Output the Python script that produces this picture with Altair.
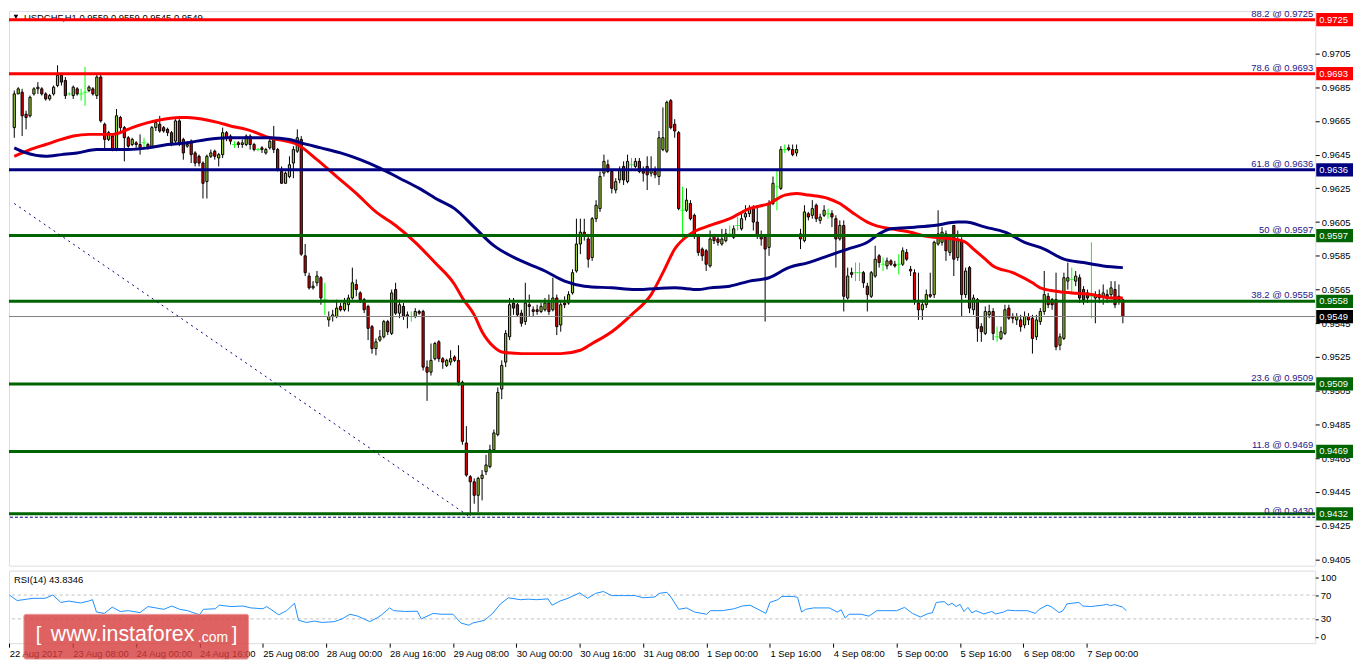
import altair as alt
import pandas as pd

# ---------------- data (USDCHF H1, bar 0 = 22 Aug 2017 16:00) ----------------
opens = [
 0.9661,0.9681,0.9682,0.9669,0.9668,0.9681,0.9684,0.9684,0.9681,0.9678,
 0.9681,0.9686,0.9692,0.9689,0.9681,0.9680,0.9684,0.9681,0.9682,0.9683,
 0.9684,0.9680,0.9691,0.9663,0.9654,0.9656,0.9648,0.9667,0.9661,0.9655,
 0.9651,0.9652,0.9651,0.9652,0.9651,0.9650,0.9661,0.9663,0.9661,0.9660,
 0.9658,0.9653,0.9665,0.9654,0.9650,0.9653,0.9646,0.9644,0.9640,0.9629,
 0.9644,0.9647,0.9643,0.9645,0.9658,0.9656,0.9651,0.9652,0.9651,0.9651,
 0.9656,0.9651,0.9648,0.9649,0.9646,0.9649,0.9654,0.9648,0.9635,0.9628,
 0.9632,0.9640,0.9647,0.9654,0.9585,0.9573,0.9566,0.9569,0.9572,0.9559,
 0.9547,0.9549,0.9549,0.9555,0.9553,0.9556,0.9560,0.9568,0.9563,0.9559,
 0.9555,0.9543,0.9530,0.9535,0.9537,0.9546,0.9539,0.9565,0.9551,0.9555,
 0.9550,0.9549,0.9549,0.9552,0.9552,0.9519,0.9516,0.9524,0.9534,0.9524,
 0.9520,0.9522,0.9525,0.9523,0.9510,0.9474,0.9454,0.9451,0.9443,0.9453,
 0.9457,0.9460,0.9470,0.9479,0.9506,0.9522,0.9537,0.9557,0.9556,0.9551,
 0.9546,0.9556,0.9553,0.9553,0.9552,0.9553,0.9557,0.9553,0.9560,0.9544,
 0.9557,0.9557,0.9563,0.9576,0.9592,0.9599,0.9595,0.9584,0.9607,0.9613,
 0.9634,0.9639,0.9635,0.9624,0.9630,0.9638,0.9629,0.9639,0.9638,0.9641,
 0.9636,0.9638,0.9634,0.9635,0.9632,0.9648,0.9647,0.9677,0.9663,0.9658,
 0.9612,0.9612,0.9616,0.9609,0.9597,0.9589,0.9588,0.9579,0.9597,0.9595,
 0.9592,0.9594,0.9598,0.9596,0.9603,0.9601,0.9608,0.9610,0.9613,0.9605,
 0.9597,0.9596,0.9590,0.9616,0.9626,0.9625,0.9648,0.9649,0.9648,0.9646,
 0.9598,0.9594,0.9610,0.9609,0.9615,0.9606,0.9609,0.9610,0.9610,0.9607,
 0.9595,0.9603,0.9560,0.9575,0.9575,0.9575,0.9575,0.9567,0.9561,0.9573,
 0.9585,0.9580,0.9579,0.9582,0.9580,0.9580,0.9580,0.9587,0.9577,0.9575,
 0.9557,0.9553,0.9556,0.9562,0.9562,0.9592,0.9593,0.9598,0.9587,0.9603,
 0.9584,0.9594,0.9562,0.9578,0.9553,0.9559,0.9543,0.9539,0.9550,0.9552,
 0.9537,0.9536,0.9539,0.9554,0.9549,0.9547,0.9547,0.9544,0.9549,0.9548,
 0.9537,0.9546,0.9552,0.9561,0.9559,0.9559,0.9532,0.9536,0.9570,0.9571,
 0.9570,0.9572,0.9565,0.9563,0.9561,0.9560,0.9562,0.9561,0.9562,0.9562,
 0.9565,0.9561,0.9559]
closes = [
 0.9681,0.9684,0.9668,0.9667,0.9679,0.9684,0.9685,0.9681,0.9678,0.9680,
 0.9685,0.9692,0.9688,0.9680,0.9681,0.9685,0.9681,0.9681,0.9682,0.9685,
 0.9681,0.9691,0.9665,0.9654,0.9658,0.9648,0.9668,0.9661,0.9655,0.9650,
 0.9654,0.9651,0.9649,0.9652,0.9649,0.9661,0.9664,0.9659,0.9659,0.9658,
 0.9652,0.9665,0.9652,0.9646,0.9651,0.9645,0.9640,0.9640,0.9628,0.9644,
 0.9646,0.9644,0.9645,0.9658,0.9655,0.9653,0.9651,0.9651,0.9652,0.9656,
 0.9651,0.9648,0.9648,0.9648,0.9648,0.9653,0.9648,0.9636,0.9628,0.9634,
 0.9639,0.9648,0.9655,0.9586,0.9575,0.9566,0.9567,0.9573,0.9560,0.9559,
 0.9549,0.9550,0.9554,0.9553,0.9557,0.9560,0.9569,0.9565,0.9559,0.9553,
 0.9542,0.9530,0.9534,0.9537,0.9546,0.9540,0.9563,0.9551,0.9556,0.9549,
 0.9549,0.9549,0.9552,0.9551,0.9519,0.9516,0.9523,0.9533,0.9524,0.9522,
 0.9523,0.9524,0.9523,0.9510,0.9475,0.9455,0.9451,0.9443,0.9453,0.9455,
 0.9461,0.9470,0.9480,0.9504,0.9520,0.9539,0.9556,0.9554,0.9550,0.9545,
 0.9557,0.9555,0.9552,0.9552,0.9555,0.9557,0.9552,0.9560,0.9543,0.9556,
 0.9556,0.9562,0.9575,0.9592,0.9599,0.9597,0.9583,0.9607,0.9615,0.9632,
 0.9641,0.9635,0.9625,0.9629,0.9636,0.9630,0.9641,0.9639,0.9641,0.9635,
 0.9634,0.9633,0.9636,0.9633,0.9655,0.9655,0.9676,0.9661,0.9659,0.9613,
 0.9612,0.9618,0.9607,0.9597,0.9587,0.9585,0.9580,0.9595,0.9594,0.9593,
 0.9595,0.9598,0.9598,0.9601,0.9603,0.9607,0.9610,0.9613,0.9605,0.9597,
 0.9595,0.9589,0.9616,0.9628,0.9626,0.9648,0.9648,0.9648,0.9645,0.9648,
 0.9595,0.9611,0.9608,0.9613,0.9607,0.9608,0.9612,0.9610,0.9608,0.9595,
 0.9603,0.9561,0.9573,0.9574,0.9575,0.9575,0.9569,0.9562,0.9575,0.9583,
 0.9581,0.9580,0.9582,0.9580,0.9579,0.9580,0.9588,0.9583,0.9576,0.9559,
 0.9553,0.9556,0.9562,0.9561,0.9593,0.9598,0.9599,0.9588,0.9595,0.9583,
 0.9594,0.9562,0.9576,0.9554,0.9560,0.9542,0.9540,0.9552,0.9552,0.9539,
 0.9537,0.9540,0.9553,0.9548,0.9548,0.9549,0.9543,0.9549,0.9547,0.9536,
 0.9547,0.9552,0.9562,0.9556,0.9556,0.9531,0.9537,0.9572,0.9572,0.9571,
 0.9573,0.9560,0.9559,0.9560,0.9561,0.9562,0.9560,0.9563,0.9560,0.9566,
 0.9556,0.9559,0.9549]
highs = [
 0.9683,0.9685,0.9684,0.9671,0.9680,0.9685,0.9688,0.9685,0.9682,0.9681,
 0.9686,0.9698,0.9693,0.9691,0.9682,0.9686,0.9685,0.9684,0.9697,0.9686,
 0.9685,0.9693,0.9693,0.9664,0.9659,0.9657,0.9672,0.9668,0.9662,0.9656,
 0.9655,0.9653,0.9657,0.9655,0.9652,0.9662,0.9665,0.9668,0.9662,0.9661,
 0.9659,0.9666,0.9666,0.9655,0.9653,0.9654,0.9647,0.9645,0.9641,0.9645,
 0.9648,0.9648,0.9646,0.9661,0.9659,0.9657,0.9653,0.9653,0.9654,0.9657,
 0.9657,0.9652,0.9649,0.9650,0.9649,0.9655,0.9662,0.9649,0.9638,0.9635,
 0.9644,0.9650,0.9660,0.9656,0.9592,0.9575,0.9570,0.9576,0.9573,0.9569,
 0.9552,0.9553,0.9559,0.9557,0.9560,0.9562,0.9578,0.9571,0.9564,0.9560,
 0.9556,0.9544,0.9536,0.9541,0.9547,0.9547,0.9565,0.9569,0.9559,0.9557,
 0.9552,0.9552,0.9554,0.9553,0.9553,0.9523,0.9533,0.9534,0.9535,0.9525,
 0.9524,0.9529,0.9526,0.9532,0.9511,0.9484,0.9455,0.9453,0.9454,0.9458,
 0.9467,0.9473,0.9482,0.9507,0.9523,0.9541,0.9560,0.9560,0.9557,0.9553,
 0.9569,0.9562,0.9555,0.9556,0.9557,0.9560,0.9562,0.9572,0.9562,0.9558,
 0.9561,0.9564,0.9577,0.9607,0.9607,0.9607,0.9598,0.9608,0.9618,0.9635,
 0.9645,0.9642,0.9636,0.9631,0.9638,0.9641,0.9645,0.9643,0.9643,0.9643,
 0.9638,0.9644,0.9644,0.9638,0.9659,0.9673,0.9677,0.9678,0.9666,0.9659,
 0.9626,0.9625,0.9618,0.9610,0.9598,0.9590,0.9589,0.9600,0.9598,0.9597,
 0.9601,0.9601,0.9603,0.9603,0.9608,0.9610,0.9615,0.9615,0.9615,0.9615,
 0.9600,0.9598,0.9618,0.9632,0.9636,0.9650,0.9651,0.9651,0.9651,0.9651,
 0.9601,0.9615,0.9611,0.9618,0.9616,0.9610,0.9615,0.9613,0.9612,0.9609,
 0.9606,0.9606,0.9578,0.9578,0.9581,0.9581,0.9576,0.9569,0.9576,0.9591,
 0.9586,0.9584,0.9584,0.9583,0.9582,0.9586,0.9590,0.9589,0.9579,0.9577,
 0.9575,0.9559,0.9565,0.9575,0.9594,0.9612,0.9602,0.9600,0.9597,0.9603,
 0.9600,0.9596,0.9578,0.9579,0.9562,0.9560,0.9545,0.9555,0.9556,0.9554,
 0.9543,0.9543,0.9556,0.9556,0.9551,0.9551,0.9550,0.9552,0.9551,0.9550,
 0.9550,0.9554,0.9576,0.9563,0.9560,0.9575,0.9539,0.9575,0.9581,0.9578,
 0.9576,0.9574,0.9567,0.9565,0.9593,0.9564,0.9565,0.9568,0.9565,0.9570,
 0.9570,0.9568,0.9559]
lows = [
 0.9655,0.9681,0.9656,0.9660,0.9667,0.9680,0.9681,0.9680,0.9677,0.9677,
 0.9680,0.9685,0.9686,0.9678,0.9680,0.9678,0.9680,0.9677,0.9674,0.9682,
 0.9680,0.9678,0.9664,0.9648,0.9653,0.9647,0.9647,0.9659,0.9641,0.9649,
 0.9650,0.9649,0.9645,0.9649,0.9648,0.9649,0.9659,0.9658,0.9658,0.9656,
 0.9650,0.9652,0.9650,0.9642,0.9649,0.9640,0.9638,0.9638,0.9619,0.9619,
 0.9643,0.9642,0.9638,0.9643,0.9653,0.9651,0.9649,0.9649,0.9649,0.9650,
 0.9648,0.9647,0.9647,0.9646,0.9645,0.9648,0.9646,0.9635,0.9628,0.9628,
 0.9631,0.9631,0.9646,0.9585,0.9573,0.9565,0.9565,0.9567,0.9556,0.9550,
 0.9543,0.9546,0.9548,0.9552,0.9552,0.9552,0.9559,0.9561,0.9557,0.9551,
 0.9535,0.9527,0.9526,0.9534,0.9536,0.9538,0.9538,0.9550,0.9548,0.9547,
 0.9542,0.9546,0.9548,0.9550,0.9517,0.9499,0.9514,0.9523,0.9522,0.9518,
 0.9519,0.9520,0.9522,0.9508,0.9473,0.9454,0.9431,0.9438,0.9433,0.9440,
 0.9455,0.9459,0.9469,0.9478,0.9500,0.9519,0.9535,0.9550,0.9549,0.9543,
 0.9544,0.9549,0.9549,0.9550,0.9551,0.9552,0.9550,0.9552,0.9538,0.9540,
 0.9554,0.9556,0.9562,0.9575,0.9586,0.9594,0.9578,0.9582,0.9605,0.9611,
 0.9632,0.9634,0.9622,0.9622,0.9628,0.9627,0.9628,0.9637,0.9637,0.9634,
 0.9629,0.9624,0.9632,0.9631,0.9627,0.9647,0.9646,0.9660,0.9655,0.9612,
 0.9595,0.9611,0.9606,0.9595,0.9585,0.9582,0.9576,0.9578,0.9592,0.9591,
 0.9591,0.9593,0.9596,0.9595,0.9600,0.9600,0.9606,0.9608,0.9600,0.9595,
 0.9591,0.9546,0.9585,0.9615,0.9612,0.9624,0.9646,0.9647,0.9644,0.9644,
 0.9589,0.9593,0.9606,0.9607,0.9605,0.9604,0.9608,0.9607,0.9602,0.9578,
 0.9594,0.9552,0.9559,0.9572,0.9570,0.9570,0.9566,0.9552,0.9560,0.9572,
 0.9578,0.9576,0.9577,0.9579,0.9578,0.9574,0.9579,0.9582,0.9573,0.9556,
 0.9547,0.9547,0.9554,0.9560,0.9560,0.9591,0.9591,0.9582,0.9585,0.9573,
 0.9582,0.9549,0.9560,0.9551,0.9550,0.9534,0.9534,0.9538,0.9548,0.9535,
 0.9534,0.9535,0.9538,0.9547,0.9545,0.9544,0.9540,0.9542,0.9544,0.9527,
 0.9535,0.9544,0.9550,0.9554,0.9553,0.9529,0.9529,0.9535,0.9565,0.9563,
 0.9567,0.9557,0.9556,0.9557,0.9548,0.9545,0.9557,0.9556,0.9557,0.9560,
 0.9554,0.9556,0.9545]

# moving averages (read at sample bars)
red_ma_bar = [0,4,8,12,15,19,25,28,30,34,38,42,44,48,52,55,59,65,72,77,
              82,87,92,97,102,107,112,114,117,119,122,124,129,134,139,144,147,152,157,162,
              165,168,172,177,182,187,192,196,199,202,207,210,213,217,219,223,228,231,234,239,
              242,244,247,249,254,259,261,265,269,274,279,282]
red_ma_val = [0.9644,0.9648,0.9651,0.9654,0.9656,0.9657,0.9657,0.9659,0.9661,0.9664,
              0.9666,0.9667,0.9667,0.9666,0.9664,0.9662,0.9660,0.9655,0.9651,0.9642,
              0.9632,0.9622,0.9611,0.9603,0.9593,0.9581,0.9568,0.9560,0.9550,0.9540,
              0.9531,0.9528,0.9527,0.9527,0.9527,0.9529,0.9533,0.9540,0.9550,0.9562,
              0.9575,0.9589,0.9598,0.9603,0.9607,0.9613,0.9616,0.9621,0.9622,0.9621,
              0.9619,0.9616,0.9611,0.9605,0.9603,0.9601,0.9599,0.9597,0.9596,0.9595,
              0.9593,0.9589,0.9583,0.9579,0.9575,0.9569,0.9566,0.9564,0.9563,0.9562,
              0.9560,0.9560]
blue_ma_bar = [0,3,8,12,16,21,24,29,34,39,44,49,54,59,65,70,73,78,83,88,
               93,98,103,108,112,117,122,128,135,140,145,152,158,168,174,177,182,187,192,197,
               202,207,212,217,220,223,229,234,240,242,247,252,257,262,267,272,277,282]
blue_ma_val = [0.9649,0.9646,0.9644,0.9645,0.9646,0.9648,0.9648,0.9648,0.9649,0.9651,
               0.9652,0.9654,0.9655,0.9655,0.9655,0.9654,0.9652,0.9649,0.9646,0.9642,
               0.9637,0.9631,0.9625,0.9618,0.9613,0.9602,0.9591,0.9583,0.9576,0.9570,
               0.9567,0.9566,0.9565,0.9566,0.9565,0.9566,0.9567,0.9570,0.9572,0.9578,
               0.9581,0.9585,0.9589,0.9593,0.9598,0.9601,0.9602,0.9603,0.9605,0.9605,
               0.9602,0.9599,0.9593,0.9589,0.9583,0.9581,0.9579,0.9578]

# RSI(14)
rsi_bar = [0,2,6,9,11,13,15,18,20,21,22,24,26,28,30,33,35,37,39,41,
           43,45,48,49,52,53,56,59,61,64,65,68,70,72,73,75,77,79,82,84,
           86,88,91,93,94,96,97,100,103,104,107,109,112,114,116,117,120,122,124,126,
           129,131,133,136,137,139,141,144,146,148,150,152,155,158,160,163,164,166,167,169,
           171,173,176,177,180,183,185,187,189,191,192,194,195,198,199,200,201,203,207,209,
           210,211,212,215,217,219,221,224,226,228,230,232,233,234,236,237,238,239,240,241,
           242,243,244,246,248,249,251,252,254,257,259,260,262,263,265,266,267,270,271,273,
           276,277,278,279,281,282]
rsi_val = [70.0,60.8,64.5,64.5,70.0,57.6,59.9,56.7,59.9,62.2,41.5,39.2,49.8,42.4,43.8,40.6,50.7,48.4,46.1,51.6,
           46.1,43.8,36.9,46.1,47.0,53.0,50.7,51.6,48.4,47.0,50.7,36.9,43.8,56.2,27.7,24.0,26.3,24.0,25.4,30.0,
           37.8,34.6,25.4,32.3,36.9,48.4,43.8,42.4,42.9,30.0,39.2,37.8,37.8,23.1,19.4,23.1,27.7,39.2,55.3,65.4,
           62.2,63.1,62.2,63.6,53.0,59.9,64.5,73.7,64.5,72.8,76.0,69.1,69.1,69.1,65.4,66.8,72.8,74.6,66.8,46.1,
           48.4,41.5,37.8,43.8,43.8,47.0,51.6,53.0,46.1,39.2,57.6,62.2,67.7,67.7,65.9,41.5,46.1,48.4,48.4,41.5,
           45.2,31.4,37.8,37.8,34.6,43.8,43.8,43.8,49.3,39.2,33.2,39.2,40.1,57.6,59.0,53.0,56.2,50.7,54.4,42.4,
           49.3,40.1,43.8,38.3,42.4,38.3,41.5,44.7,43.8,43.8,39.2,46.1,53.0,50.7,40.6,43.8,55.3,57.6,51.6,50.7,
           53.0,54.4,52.1,53.9,49.8,43.8]

# horizontal objects
level_prices = [0.9725, 0.9693, 0.9636, 0.9597, 0.9558, 0.9509, 0.9469, 0.9432]
level_colors = ["#FF0000", "#FF0000", "#000080", "#006400", "#006400", "#006400", "#006400", "#006400"]
fib_texts = ["88.2 @ 0.9725", "78.6 @ 0.9693", "61.8 @ 0.9636", "50 @ 0.9597",
             "38.2 @ 0.9558", "23.6 @ 0.9509", "11.8 @ 0.9469", "0 @ 0.9430"]
fib_prices = [0.9725, 0.9693, 0.9636, 0.9597, 0.9558, 0.9509, 0.9469, 0.9430]
fib_base_price = 0.9430
current_price = 0.9549
box_prices = [0.9725, 0.9693, 0.9636, 0.9597, 0.9558, 0.9549, 0.9509, 0.9469, 0.9432]
box_colors = ["#FF0000", "#FF0000", "#000080", "#006400", "#006400", "#000000", "#006400", "#006400", "#006400"]
trend_bars = [0, 116]
trend_prices = [0.9616, 0.9430]

price_ticks = [0.9405, 0.9425, 0.9445, 0.9465, 0.9485, 0.9505, 0.9525, 0.9545,
               0.9565, 0.9585, 0.9605, 0.9625, 0.9645, 0.9665, 0.9685, 0.9705]
rsi_ticks = [0, 30, 70, 100]
rsi_levels = [30, 70]
time_tick_bars = [0, 16, 32, 48, 64, 80, 96, 112, 128, 144, 160, 176, 192, 208, 224, 240, 256, 272]
time_tick_labels = ["22 Aug 2017", "23 Aug 08:00", "24 Aug 00:00", "24 Aug 16:00", "25 Aug 08:00",
                    "28 Aug 00:00", "28 Aug 16:00", "29 Aug 08:00", "30 Aug 00:00", "30 Aug 16:00",
                    "31 Aug 08:00", "1 Sep 00:00", "1 Sep 16:00", "4 Sep 08:00", "5 Sep 00:00",
                    "5 Sep 16:00", "6 Sep 08:00", "7 Sep 00:00"]
title_text = "USDCHF,H1  0.9559 0.9559 0.9545 0.9549"
rsi_title = "RSI(14) 43.8346"
wm_open, wm_main, wm_tld, wm_close = "[", "www.instaforex", ".com", "]"

# ---------------- chart ----------------
FONT = "Liberation Sans"
FS = 9.5
W = 1314
H_MAIN = 558
H_RSI = 73

xs = alt.Scale(domain=[-0.08, 329.67], nice=False, zero=False)
ys = alt.Scale(domain=[0.94013, 0.97302], nice=False, zero=False)
rs = alt.Scale(domain=[-10.7, 111], nice=False, zero=False)

cd = pd.DataFrame({"i": list(range(len(opens))), "o": opens, "h": highs, "l": lows, "c": closes})
cd["kind"] = ["up" if c > o else ("down" if c < o else "doji") for o, c in zip(opens, closes)]
cd["wick"] = ["#00FF00" if k == "doji" else "#000000" for k in cd["kind"]]
cd["body"] = ["#9ACD32" if k == "up" else "#E00000" for k in cd["kind"]]
bodies = cd[cd["kind"] != "doji"]
dojis = cd[cd["kind"] == "doji"]

main_axis = alt.Axis(orient="right", values=price_ticks, format=".4f", title=None, tickSize=4,
                     domain=False, grid=False, labelFont=FONT, labelFontSize=FS,
                     labelColor="black", tickColor="black", labelPadding=2)

X = lambda f: alt.X(f, type="quantitative", scale=xs, axis=None)
Y = lambda f: alt.Y(f, type="quantitative", scale=ys, axis=main_axis)

one = pd.DataFrame({"t": [title_text]})
title_layer = alt.Chart(one).mark_text(align="left", baseline="middle", font=FONT, fontSize=FS,
                                       color="black", clip=True).encode(
    x=alt.value(15), y=alt.value(7), text="t:N")
tri_layer = alt.Chart(one).mark_point(shape="triangle-down", filled=True, size=22, color="black",
                                      opacity=1, clip=True).encode(x=alt.value(7), y=alt.value(6))

wicks = alt.Chart(cd).mark_rule(strokeWidth=1, clip=True).encode(
    x=X("i"), y=Y("l"), y2="h", color=alt.Color("wick:N", scale=None))
body_layer = alt.Chart(bodies).mark_bar(width=2.2, stroke="black", strokeWidth=1, clip=True).encode(
    x=X("i"), y=Y("o"), y2="c", fill=alt.Fill("body:N", scale=None))
doji_layer = alt.Chart(dojis).mark_tick(orient="horizontal", size=5, thickness=1, color="#00FF00",
                                        clip=True).encode(x=X("i"), y=Y("c"))

red_ma = alt.Chart(pd.DataFrame({"i": red_ma_bar, "v": red_ma_val})).mark_line(
    color="#FF0000", strokeWidth=3, interpolate="monotone", clip=True).encode(x=X("i"), y=Y("v"))
blue_ma = alt.Chart(pd.DataFrame({"i": blue_ma_bar, "v": blue_ma_val})).mark_line(
    color="#000080", strokeWidth=3, interpolate="monotone", clip=True).encode(x=X("i"), y=Y("v"))

lv = pd.DataFrame({"p": level_prices, "col": level_colors})
levels = alt.Chart(lv).mark_rule(strokeWidth=3, clip=True).encode(
    y=Y("p"), color=alt.Color("col:N", scale=None))
cur = alt.Chart(pd.DataFrame({"p": [current_price]})).mark_rule(
    strokeWidth=1, color="#808080", clip=True).encode(y=Y("p"))
base = alt.Chart(pd.DataFrame({"p": [fib_base_price]})).mark_rule(
    strokeWidth=1, color="#000080", strokeDash=[3, 2], clip=True).encode(y=Y("p"))
trend = alt.Chart(pd.DataFrame({"i": trend_bars, "p": trend_prices})).mark_line(
    strokeWidth=1, color="#000080", strokeDash=[2, 4], clip=True).encode(x=X("i"), y=Y("p"))

fib = alt.Chart(pd.DataFrame({"p": fib_prices, "t": fib_texts})).mark_text(
    align="right", baseline="bottom", dy=-1, font=FONT, fontSize=FS, color="#1a1a8a", clip=True).encode(
    x=alt.value(W - 2), y=Y("p"), text="t:N")

bx = pd.DataFrame({"p": box_prices, "col": box_colors, "t": [f"{v:.4f}" for v in box_prices]})
box_shape = "M-1,-0.36L1,-0.36L1,0.36L-1,0.36Z"
boxes = alt.Chart(bx).mark_point(shape=box_shape, filled=True, size=1369, opacity=1).encode(
    x=alt.value(W + 19.5), y=Y("p"), color=alt.Color("col:N", scale=None))
box_text = alt.Chart(bx).mark_text(align="left", baseline="middle", font=FONT, fontSize=FS,
                                   color="white").encode(x=alt.value(W + 4), y=Y("p"), text="t:N")

main = alt.layer(title_layer, tri_layer, wicks, body_layer, doji_layer, red_ma, blue_ma,
                 levels, cur, base, trend, fib, boxes, box_text).properties(width=W, height=H_MAIN)

# RSI panel
label_expr = "[" + ",".join("'" + s + "'" for s in time_tick_labels) + "][round(datum.value/16)]"
x_axis = alt.Axis(orient="bottom", values=time_tick_bars, labelExpr=label_expr, title=None, tickSize=4,
                  domain=False, grid=False, labelAlign="left", labelPadding=1, labelFlush=False,
                  labelOverlap=False, labelBound=False, labelFont=FONT, labelFontSize=FS,
                  labelColor="black", tickColor="black")
rsi_axis = alt.Axis(orient="right", values=rsi_ticks, title=None, tickSize=3, domain=False, grid=False,
                    labelFont=FONT, labelFontSize=FS, labelColor="black", tickColor="black", labelPadding=2)
RX = lambda f: alt.X(f, type="quantitative", scale=xs, axis=x_axis)
RY = lambda f: alt.Y(f, type="quantitative", scale=rs, axis=rsi_axis)

rsi_df = pd.DataFrame({"i": rsi_bar, "v": rsi_val})
rsi_line = alt.Chart(rsi_df).mark_line(color="#1E90FF", strokeWidth=1, clip=True).encode(
    x=RX("i"), y=RY("v"))
rsi_lv = alt.Chart(pd.DataFrame({"v": rsi_levels})).mark_rule(
    color="#C0C0C0", strokeWidth=1, strokeDash=[3, 3], clip=True).encode(y=RY("v"))
rsi_lab = alt.Chart(pd.DataFrame({"t": [rsi_title]})).mark_text(
    align="left", baseline="middle", font=FONT, fontSize=FS, color="black", clip=True).encode(
    x=alt.value(5), y=alt.value(9), text="t:N")
wm_df = pd.DataFrame({"a": [wm_open], "b": [wm_main], "c": [wm_tld], "d": [wm_close]})
wm_rect = alt.Chart(wm_df).mark_rect(color="#D63C3C", opacity=0.8, stroke="#E88080", strokeWidth=1,
                                     cornerRadius=2).encode(
    x=alt.value(15), x2=alt.value(241), y=alt.value(44), y2=alt.value(89))
wm_t1 = alt.Chart(wm_df).mark_text(align="left", baseline="middle", font=FONT, fontSize=20,
                                   color="white").encode(x=alt.value(27), y=alt.value(65), text="a:N")
wm_t2 = alt.Chart(wm_df).mark_text(align="left", baseline="middle", font=FONT, fontSize=21.5,
                                   color="white").encode(x=alt.value(42), y=alt.value(65), text="b:N")
wm_t3 = alt.Chart(wm_df).mark_text(align="left", baseline="alphabetic", font=FONT, fontSize=14,
                                   color="white").encode(x=alt.value(190), y=alt.value(72), text="c:N")
wm_t4 = alt.Chart(wm_df).mark_text(align="left", baseline="middle", font=FONT, fontSize=20,
                                   color="white").encode(x=alt.value(224), y=alt.value(65), text="d:N")

rsi = alt.layer(rsi_lv, rsi_line, rsi_lab, wm_rect, wm_t1, wm_t2, wm_t3, wm_t4).properties(
    width=W, height=H_RSI)

chart = alt.vconcat(main, rsi, spacing=3, padding=0).configure_view(
    stroke="black", strokeWidth=1).configure(font=FONT, background="white")

chart.save("out.html", embed_options={"renderer": "svg", "actions": False})
